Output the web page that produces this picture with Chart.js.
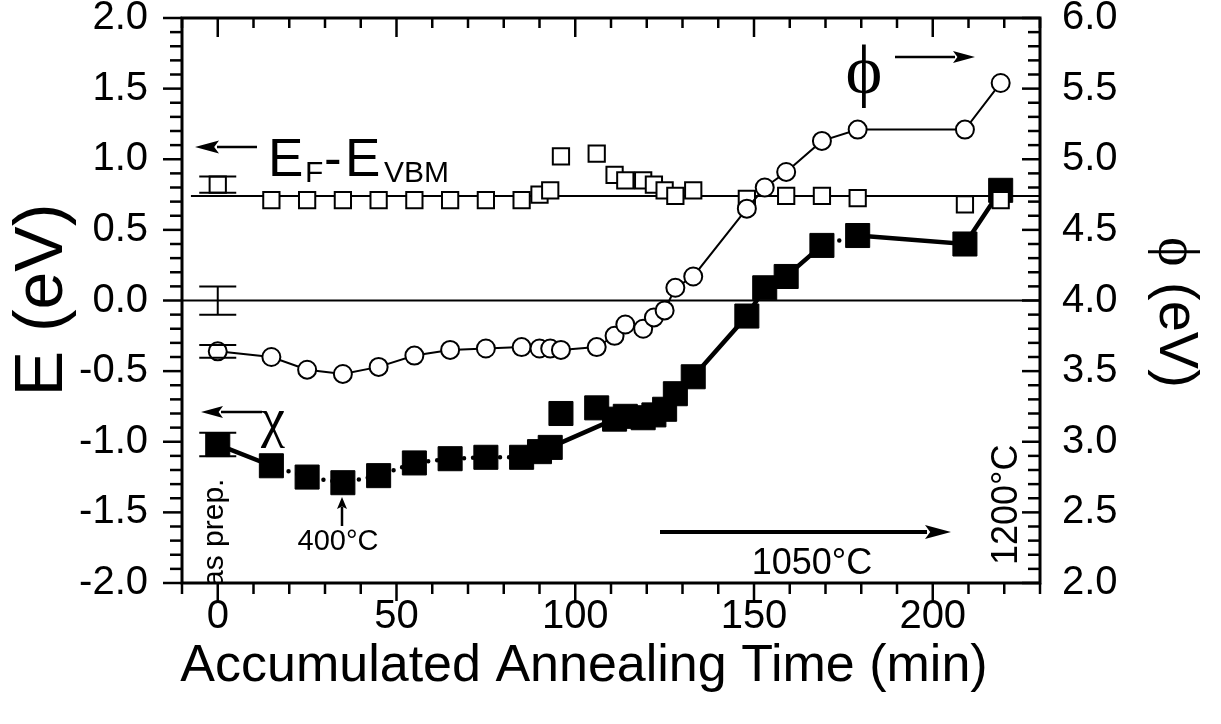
<!DOCTYPE html>
<html>
<head>
<meta charset="utf-8">
<script src="https://cdn.jsdelivr.net/npm/chart.js@4.4.1/dist/chart.umd.min.js"></script>
<style>
    html, body { margin: 0; padding: 0; background: #fff; }
    canvas { display: block; }
</style>
</head>
<body>
<canvas id="chart" width="1221" height="724"></canvas>
<script>
// accumulated annealing time (min)
var timeMin = [0, 15, 25, 35, 45, 55, 65, 75, 85, 90, 93, 96, 106, 111, 114, 119, 122, 125, 128, 133, 148, 153, 159, 169, 179, 209, 219];
// E_F - E_VBM (eV), open squares, left axis
var efVbm = [0.82, 0.71, 0.71, 0.71, 0.71, 0.71, 0.71, 0.71, 0.71, 0.75, 0.78, 1.02, 1.04, 0.89, 0.85, 0.85, 0.82, 0.78, 0.74, 0.78, 0.72, null, 0.74, 0.74, 0.725, 0.68, 0.71];
// work function phi (eV), open circles, right axis
var phi = [3.64, 3.60, 3.51, 3.48, 3.53, 3.61, 3.65, 3.66, 3.67, 3.66, 3.66, 3.65, 3.67, 3.75, 3.83, 3.80, 3.88, 3.93, 4.09, 4.17, 4.65, 4.80, 4.91, 5.13, 5.21, 5.21, 5.54];
// electron affinity chi (eV), filled squares, left axis
var chi = [-1.02, -1.17, -1.25, -1.29, -1.24, -1.15, -1.12, -1.11, -1.11, -1.07, -1.04, null, null, -0.84, -0.82, -0.83, -0.81, -0.77, -0.66, -0.54, -0.11, 0.09, 0.17, 0.39, 0.46, 0.40, 0.78];
// chi points that are not on the line
var chiOffTime = [96, 106];
var chiOff = [-0.80, -0.76];
// mean E_F - E_VBM
var efMeanTime = [-7.5, 230];
var efMean = 0.74;
// error bars on the as-prepared values
var errTime = [0, 0, 0, 0];
var errAxis = ['y', 'y', 'y2', 'y'];
var errMid = [0.82, 0.0, 3.64, -1.02];
var errHalf = [0.057, 0.1, 0.045, 0.083];
// axis ticks
var xTicks = [0, 50, 100, 150, 200];
var yTicks = [-2, -1.5, -1, -0.5, 0, 0.5, 1, 1.5, 2];
var y2Ticks = [2, 2.5, 3, 3.5, 4, 4.5, 5, 5.5, 6];

var SANS = '"Liberation Sans", Arial, Helvetica, sans-serif';
var SERIF = '"Liberation Serif", "DejaVu Serif", "Times New Roman", serif';

function pts(xs, ys) {
    return xs.map(function (x, i) { return {x: x, y: ys[i]}; });
}

function line(c, x1, y1, x2, y2) {
    c.beginPath();
    c.moveTo(x1, y1);
    c.lineTo(x2, y2);
    c.stroke();
}

// arrow from (x1,y1) to tip (x2,y2)
function arrow(c, x1, y1, x2, y2, w, hl, hw) {
    var ang = Math.atan2(y2 - y1, x2 - x1);
    c.save();
    c.translate(x2, y2);
    c.rotate(ang);
    var len = Math.hypot(x2 - x1, y2 - y1);
    c.lineWidth = w;
    line(c, -len, 0, -hl + 2, 0);
    c.beginPath();
    c.moveTo(0, 0);
    c.lineTo(-hl, -hw);
    c.lineTo(-hl * 0.8, 0);
    c.lineTo(-hl, hw);
    c.closePath();
    c.fill();
    c.restore();
}

function onlyTicks(list) {
    return function (scale) {
        scale.ticks = list.map(function (v) { return {value: v}; });
    };
}

// fixed box sizes so the plot area matches the original
function fixSize(w, h) {
    return function (s) {
        if (w !== null) s.width = w;
        if (h !== null) s.height = h;
        s.paddingTop = 0;
        s.paddingBottom = 0;
        s.paddingLeft = 0;
        s.paddingRight = 0;
    };
}

var dottedSpans = [[15, 85], [169, 179]];
function isDotted(ctx) {
    var a = ctx.p0.parsed.x, b = ctx.p1.parsed.x;
    return dottedSpans.some(function (s) { return a >= s[0] && b <= s[1]; });
}

var decorations = {
    id: 'decorations',
    beforeDatasetsDraw: function (chart) {
        var c = chart.ctx, a = chart.chartArea, x = chart.scales.x;
        c.save();
        c.strokeStyle = '#000';
        c.lineWidth = 2;
        var y0 = chart.scales.y.getPixelForValue(0);
        line(c, a.left, y0, a.right, y0);
        // error bar stems
        for (var i = 0; i < errTime.length; i++) {
            var s = chart.scales[errAxis[i]];
            var px = x.getPixelForValue(errTime[i]);
            line(c, px, s.getPixelForValue(errMid[i] - errHalf[i]), px, s.getPixelForValue(errMid[i] + errHalf[i]));
        }
        c.restore();
    },
    afterDatasetsDraw: function (chart) {
        var c = chart.ctx, a = chart.chartArea, x = chart.scales.x, y = chart.scales.y;
        c.save();
        c.strokeStyle = '#000';
        c.fillStyle = '#000';
        // error bar caps
        c.lineWidth = 2;
        for (var i = 0; i < errTime.length; i++) {
            var s = chart.scales[errAxis[i]];
            var px = x.getPixelForValue(errTime[i]);
            [errMid[i] - errHalf[i], errMid[i] + errHalf[i]].forEach(function (v) {
                var py = s.getPixelForValue(v);
                line(c, px - 18.5, py, px + 18.5, py);
            });
        }

        // frame
        c.lineWidth = 3;
        c.strokeRect(a.left, a.top, a.right - a.left, a.bottom - a.top);
        c.lineWidth = 2.5;
        var t, v, major, px, py;
        for (t = -10; t <= 230; t += 10) {
            major = t % 50 === 0;
            px = x.getPixelForValue(t);
            line(c, px, a.bottom, px, a.bottom + (major ? 18 : 11));
            line(c, px, a.top, px, a.top + (major ? 19 : 10));
        }
        for (var k = -20; k <= 20; k++) {
            v = k / 10;
            major = k % 5 === 0;
            py = y.getPixelForValue(v);
            line(c, a.left, py, a.left - (major ? 19 : 12), py);
            line(c, a.right, py, a.right - (major ? 18 : 12), py);
        }

        // annotations
        c.textBaseline = 'alphabetic';
        c.textAlign = 'left';
        arrow(c, 257, 147, 195, 147, 2.5, 24, 6.5);
        c.font = '53px ' + SANS;
        c.fillText('E', 268, 176);
        c.font = '30px ' + SANS;
        c.fillText('F', 305, 182);
        c.font = '53px ' + SANS;
        c.fillText('-', 324, 176);
        c.fillText('E', 345, 176);
        c.font = '30px ' + SANS;
        c.fillText('VBM', 384, 182);

        c.font = '70px ' + SERIF;
        c.textAlign = 'center';
        c.fillText('\u03D5', 864, 93);
        arrow(c, 895, 57, 975, 57, 2.5, 22, 6);

        arrow(c, 262, 412, 201, 412, 2.5, 22, 6);
        c.font = '54px ' + SERIF;
        c.textAlign = 'left';
        c.fillText('\u03C7', 261, 436);

        c.font = '29px ' + SANS;
        c.textAlign = 'center';
        c.fillText('400\u00B0C', 338, 550);
        arrow(c, 342, 526, 342, 497, 2.5, 12, 5);

        arrow(c, 660, 532, 951, 532, 4, 26, 7);
        c.font = '36px ' + SANS;
        c.fillText('1050\u00B0C', 812, 574);

        c.save();
        c.beginPath();
        c.rect(a.left, a.top, a.right - a.left, a.bottom - a.top);
        c.clip();
        c.translate(223, 587);
        c.rotate(-Math.PI / 2);
        c.textAlign = 'left';
        c.font = '30px ' + SANS;
        c.fillText('as prep.', 0, 0);
        c.restore();

        c.save();
        c.translate(1017, 565);
        c.rotate(-Math.PI / 2);
        c.textAlign = 'left';
        c.font = '36px ' + SANS;
        c.fillText('1200\u00B0C', 0, 0);
        c.restore();

        // axis titles
        c.font = '52px ' + SANS;
        c.textAlign = 'center';
        c.fillText('Accumulated Annealing Time (min)', 584, 681);

        c.save();
        c.translate(62, 300);
        c.rotate(-Math.PI / 2);
        c.font = '68px ' + SANS;
        c.fillText('E (eV)', 0, 0);
        c.restore();

        c.save();
        c.translate(1160, 237);
        c.rotate(Math.PI / 2);
        c.textAlign = 'left';
        c.font = '56px ' + SERIF;
        c.fillText('\u03D5', 0, 0);
        var w = c.measureText('\u03D5').width;
        c.font = '56px ' + SANS;
        c.fillText(' (eV)', w, 0);
        c.restore();

        c.restore();
    }
};

var tickFont = {family: SANS, size: 40};

new Chart(document.getElementById('chart').getContext('2d'), {
    type: 'scatter',
    data: {
        datasets: [{
            label: 'phi',
            data: pts(timeMin, phi),
            yAxisID: 'y2',
            showLine: true,
            borderColor: '#000',
            borderWidth: 2,
            pointStyle: 'circle',
            pointRadius: 9,
            pointBorderWidth: 2,
            pointBackgroundColor: '#fff',
            pointBorderColor: '#000'
        }, {
            label: 'EF-EVBM',
            data: pts(timeMin, efVbm),
            yAxisID: 'y',
            showLine: false,
            pointStyle: 'rect',
            pointRadius: 11.5,
            pointBorderWidth: 2,
            pointBackgroundColor: '#fff',
            pointBorderColor: '#000'
        }, {
            label: 'chi off-line',
            data: pts(chiOffTime, chiOff),
            yAxisID: 'y',
            showLine: false,
            pointStyle: 'rect',
            pointRadius: 17,
            pointBorderWidth: 1,
            pointBackgroundColor: '#000',
            pointBorderColor: '#000'
        }, {
            label: 'chi',
            data: pts(timeMin, chi),
            yAxisID: 'y',
            showLine: true,
            spanGaps: true,
            borderColor: '#000',
            borderWidth: 4.5,
            borderCapStyle: 'round',
            segment: {
                borderDash: function (ctx) { return isDotted(ctx) ? [0, 9] : undefined; }
            },
            pointStyle: 'rect',
            pointRadius: 17,
            pointBorderWidth: 1,
            pointBackgroundColor: '#000',
            pointBorderColor: '#000'
        }, {
            label: 'mean',
            data: efMeanTime.map(function (t) { return {x: t, y: efMean}; }),
            yAxisID: 'y',
            showLine: true,
            borderColor: '#000',
            borderWidth: 2,
            pointRadius: 0
        }]
    },
    options: {
        responsive: false,
        animation: false,
        events: [],
        layout: {autoPadding: false, padding: {top: 18, left: 0, right: 0, bottom: 0}},
        plugins: {legend: {display: false}, tooltip: {enabled: false}},
        scales: {
            x: {
                type: 'linear',
                position: 'bottom',
                min: -10,
                max: 230,
                grid: {display: false, drawTicks: false},
                border: {display: false},
                ticks: {font: tickFont, color: '#000', padding: 10, maxRotation: 0},
                afterBuildTicks: onlyTicks(xTicks),
                afterFit: fixSize(null, 141)
            },
            y: {
                type: 'linear',
                position: 'left',
                min: -2,
                max: 2,
                grid: {display: false, drawTicks: false},
                border: {display: false},
                ticks: {font: tickFont, color: '#000', padding: 34, callback: function (v) { return v.toFixed(1); }},
                afterBuildTicks: onlyTicks(yTicks),
                afterFit: fixSize(182, null)
            },
            y2: {
                type: 'linear',
                position: 'right',
                min: 2,
                max: 6,
                grid: {display: false, drawTicks: false},
                border: {display: false},
                ticks: {font: tickFont, color: '#000', padding: 22, callback: function (v) { return v.toFixed(1); }},
                afterBuildTicks: onlyTicks(y2Ticks),
                afterFit: fixSize(181, null)
            }
        }
    },
    plugins: [decorations]
});
</script>
</body>
</html>
